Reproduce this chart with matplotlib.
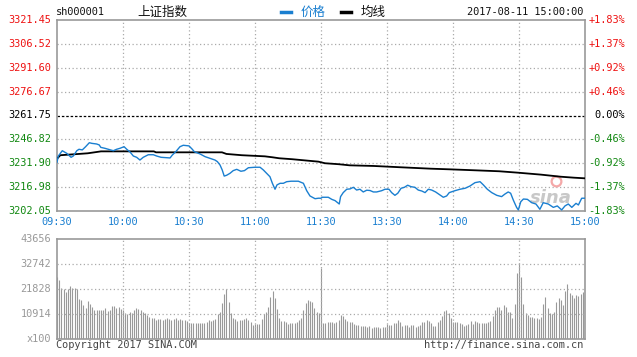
import matplotlib
matplotlib.use("Agg")
import matplotlib.pyplot as plt
from matplotlib.lines import Line2D
import numpy as np

W, H = 637, 357

# ---------------- data ----------------
price_ticks = [3202.05, 3216.98, 3231.90, 3246.82, 3261.75, 3276.67, 3291.60, 3306.52, 3321.45]
pct_labels = ["-1.83%", "-1.37%", "-0.92%", "-0.46%", "0.00%", "+0.46%", "+0.92%", "+1.37%", "+1.83%"]
prev_close = 3261.75
time_labels = ["09:30", "10:00", "10:30", "11:00", "11:30", "13:30", "14:00", "14:30", "15:00"]
vol_ticks = [10914, 21828, 32742, 43656]

price_min = [0, 0.6, 2.4, 4.4, 6.4, 7.4, 9, 10, 11.5, 13, 14.7, 15.8, 18, 19.2, 19.9, 21.8, 23.3, 25.6,
             27.1, 28.6, 30.5, 31.7, 33.2, 34.7, 36.2, 37.7, 39.2, 41.5, 43.8, 45.3, 47.3, 51.4, 52.4,
             54, 55.9, 57.4, 60, 61.5, 62.4, 65, 67.3, 69.5, 71.8, 72.9, 74.1, 75.1, 76, 77.1, 78.6,
             80.1, 81.7, 83.6, 85.2, 87, 90, 92.3, 93.8, 95.3, 96.8, 97.9, 99.1, 100, 101.4, 102.9,
             104.4, 106.4, 109.7, 112, 113.5, 115, 117.3, 118.8, 120, 120.6, 123.3, 124.9, 126.4,
             127.6, 128.3, 128.9, 130.1, 131.7, 133.2, 134.7, 136.2, 137.7, 139.2, 140.8, 142.3,
             143.8, 145.3, 147.6, 149.1, 150.9, 152.1, 153.6, 154.9, 156.4, 157.9, 159.4, 160.9,
             162.7, 164.2, 165.8, 167.3, 168.8, 170.3, 172.1, 174.1, 175.6, 177.1, 178.3, 180.9,
             183.2, 185.5, 187.7, 190, 192.3, 193.8, 195.6, 197.6, 199.9, 202.1, 203.6, 205.1,
             206.2, 207.4, 208.9, 209.7, 210.8, 212, 213.8, 215.8, 217.7, 219.5, 221, 223.3, 225.6,
             227.4, 229.4, 230.9, 232.4, 234, 235.9, 237, 238.5, 240]
price_val = [3232.6, 3236.5, 3239.8, 3238.2, 3235.7, 3236.5, 3239.8, 3240.7, 3240.3, 3242.3, 3244.8,
             3244.4, 3244.0, 3243.4, 3241.9, 3241.3, 3240.7, 3239.8, 3240.7, 3241.3, 3242.3, 3240.7,
             3239.0, 3236.5, 3235.7, 3234.0, 3235.7, 3237.3, 3237.3, 3236.5, 3235.7, 3235.3, 3237.1,
             3239.2, 3242.3, 3243.2, 3242.8, 3240.7, 3239.2, 3237.8, 3236.1, 3235.1, 3234.0, 3233.0,
             3230.9, 3227.8, 3224.0, 3224.5, 3225.7, 3227.4, 3228.2, 3227.0, 3227.4, 3229.2, 3229.5,
             3229.5, 3227.8, 3225.7, 3223.6, 3219.5, 3215.8, 3218.5, 3219.5, 3219.5, 3220.5, 3220.8,
             3220.8, 3219.5, 3214.9, 3211.6, 3209.9, 3210.2, 3210.2, 3210.8, 3210.8, 3209.5, 3208.7,
             3207.4, 3206.6, 3211.2, 3213.7, 3215.8, 3216.0, 3217.0, 3215.3, 3215.8, 3214.1, 3215.2,
             3215.0, 3214.1, 3214.1, 3214.9, 3215.8, 3215.8, 3213.7, 3212.0, 3213.3, 3216.4, 3217.0,
             3218.3, 3217.4, 3217.0, 3215.3, 3214.7, 3213.7, 3215.8, 3215.3, 3214.1, 3212.2, 3210.8,
             3211.6, 3213.7, 3214.9, 3215.8, 3216.4, 3217.8, 3219.9, 3220.5, 3218.5, 3215.8, 3213.7,
             3212.0, 3211.2, 3212.8, 3214.1, 3213.3, 3209.1, 3204.5, 3202.9, 3208.0, 3209.7, 3209.5,
             3207.4, 3206.6, 3203.3, 3207.4, 3206.6, 3204.5, 3205.4, 3202.9, 3205.4, 3206.6, 3204.5,
             3207.0, 3206.0, 3210.2, 3210.2]

avg_min = [0, 1.5, 10, 14, 17, 20, 44, 45, 75, 77, 84, 94.5, 98, 101, 107, 114, 118.8, 121.8, 128,
           133, 144, 156, 170, 178.6, 190, 201, 209.7, 220, 229, 235, 240]
avg_val = [3234.8, 3237.0, 3237.8, 3238.2, 3238.8, 3239.4, 3239.4, 3238.8, 3238.8, 3237.8, 3237.0,
           3236.3, 3235.7, 3235.1, 3234.5, 3233.6, 3233.0, 3232.0, 3231.4, 3230.7, 3230.3, 3229.5,
           3228.6, 3228.2, 3227.6, 3227.0, 3226.1, 3224.9, 3223.6, 3223.0, 3222.6]

volume = [
    27000, 25900, 22550, 21970, 20800, 21970, 23280, 22550, 22260, 21830,
    17600, 17170, 14990, 13820, 16730, 15280, 14260, 12800, 12800, 12800,
    12800, 12800, 13530, 12370, 12800, 14550, 14550, 13530, 14260, 13100,
    12800, 11350, 10910, 11790, 11350, 12800, 13530, 13240, 12800, 12080,
    11350, 10620, 9890, 9460, 9460, 8440, 8880, 8880, 8440, 8880,
    9170, 8880, 8440, 8880, 9460, 8440, 8880, 8440, 8290, 8000,
    7280, 7130, 7130, 7130, 7130, 7130, 7130, 7130, 7710, 8440,
    8000, 8440, 8880, 10910, 11790, 15710, 19640, 21970, 16440, 11350,
    9460, 8880, 8000, 8440, 8440, 8880, 9460, 8440, 7420, 6260,
    6550, 6550, 6840, 8880, 10910, 11790, 14260, 18620, 21100, 18190,
    13240, 9460, 8000, 8000, 7420, 6550, 7130, 7130, 7130, 7420,
    8440, 9460, 12800, 15710, 17020, 16730, 16150, 13820, 11790, 11350,
    31280, 7130, 7280, 7710, 7710, 7420, 6980, 7420, 8440, 10620,
    10330, 8880, 8000, 7710, 7710, 6550, 6260, 6260, 5970, 5970,
    5820, 5530, 5820, 5090, 5380, 5380, 5380, 5090, 5380, 5530,
    6550, 6260, 6260, 6980, 6980, 8440, 7710, 5970, 6260, 6260,
    5530, 6260, 6260, 5530, 5970, 6260, 7420, 7710, 8440, 8000,
    6980, 5820, 5970, 7710, 8440, 10330, 12370, 12800, 11350, 9170,
    7710, 7710, 7420, 6980, 6550, 5970, 6260, 6550, 8000, 6550,
    8000, 7420, 7130, 7130, 6980, 7280, 7420, 8000, 10190, 12800,
    14260, 14260, 12800, 14990, 14260, 11790, 11790, 9170, 15280, 28810,
    33170, 27350, 15420, 11350, 10620, 9890, 9600, 9460, 9170, 8730,
    9890, 15280, 18620, 13820, 11350, 10910, 11790, 16440, 17900, 17170,
    14990, 21100, 24010, 20370, 19350, 18190, 19350, 18920, 19640, 20800,
    29830,
]

# ---------------- style ----------------
GRID = "#aaaaaa"
BORDER = "#999999"
RED = "#ee1111"
GREEN = "#118811"
BLUE = "#1a7fd0"
MONO = ["DejaVu Sans Mono"]
CJK = ["Noto Sans CJK SC", "DejaVu Sans"]
FS = 7.4

fig = plt.figure(figsize=(W / 100, H / 100), dpi=100)
fig.patch.set_facecolor("white")

def fx(px):
    return px / W

def fy(py):
    return 1 - py / H

# price panel
L, R = 57, 585
T1, B1 = 19.7, 211.3
ax = fig.add_axes([fx(L), fy(B1), fx(R - L), (B1 - T1) / H])
ax.set_xlim(0, 240)
ax.set_ylim(price_ticks[0], price_ticks[-1])
for s in ax.spines.values():
    s.set_color(BORDER)
    s.set_linewidth(1.2)
ax.set_xticks([]); ax.set_yticks([])

xgrid = np.arange(30, 240, 30)
for xv in xgrid:
    ax.axvline(xv, color=GRID, lw=0.9, ls=(0, (1, 2)), zorder=1)
for pv in price_ticks[1:-1]:
    if pv == prev_close:
        ax.axhline(pv, color="black", lw=0.9, ls=(0, (2, 1.5)), zorder=1)
    else:
        ax.axhline(pv, color=GRID, lw=0.9, ls=(0, (1, 2)), zorder=1)

ax.plot(avg_min, avg_val, color="black", lw=1.3, zorder=3)
ax.plot(price_min, price_val, color=BLUE, lw=1.0, zorder=4)

for pv, pl in zip(price_ticks, pct_labels):
    if pv > prev_close:
        c = RED
    elif pv < prev_close:
        c = GREEN
    else:
        c = "black"
    ax.text(-0.011, pv, f"{pv:.2f}", transform=ax.get_yaxis_transform(), ha="right", va="center",
            color=c, fontsize=FS, family=MONO)
    ax.text(1.0758, pv, pl, transform=ax.get_yaxis_transform(), ha="right", va="center",
            color=c, fontsize=FS, family=MONO)

for i, tl in enumerate(time_labels):
    ax.text(i * 30, -0.055, tl, transform=ax.get_xaxis_transform(), ha="center", va="center",
            color=BLUE, fontsize=FS, family=MONO)

# sina watermark
ax.text(0.935, 0.07, "sina", transform=ax.transAxes, ha="center", va="center", fontsize=13,
        fontstyle="italic", fontweight="bold", color="#c8c8c8", zorder=2)
ax.plot([0.945], [0.16], transform=ax.transAxes, marker="o", ms=7, mfc="none", mec="#f4a8a8",
        mew=1.6, zorder=2)

# volume panel
T2, B2 = 239.3, 339.3
av = fig.add_axes([fx(L), fy(B2), fx(R - L), (B2 - T2) / H])
av.set_xlim(0, 240)
av.set_ylim(0, vol_ticks[-1])
for s in av.spines.values():
    s.set_color(BORDER)
    s.set_linewidth(1.2)
av.set_xticks([]); av.set_yticks([])
minutes = np.arange(len(volume))
av.vlines(minutes, 0, volume, color="#999999", lw=0.8, zorder=2)
for xv in xgrid:
    av.axvline(xv, color=GRID, lw=0.9, ls=(0, (1, 2)), zorder=3)
for vv in vol_ticks[:-1]:
    av.axhline(vv, color=GRID, lw=0.9, ls=(0, (1, 2)), zorder=3)
for vv in vol_ticks:
    av.text(-0.011, vv, str(vv), transform=av.get_yaxis_transform(), ha="right", va="center",
            color="#999999", fontsize=FS, family=MONO)
av.text(-0.011, 0, "x100", transform=av.get_yaxis_transform(), ha="right", va="center",
        color="#999999", fontsize=FS, family=MONO)

# header texts
fig.text(fx(56), fy(12), "sh000001", ha="left", va="center", fontsize=FS, family=MONO, color="#111111")
fig.text(fx(137), fy(12), "上证指数", ha="left", va="center", fontsize=9, family=CJK, color="#111111")
fig.add_artist(Line2D([fx(281), fx(291)], [fy(12), fy(12)], lw=2.5, color=BLUE))
fig.text(fx(301), fy(12), "价格", ha="left", va="center", fontsize=9, family=CJK, color=BLUE)
fig.add_artist(Line2D([fx(341), fx(351)], [fy(12), fy(12)], lw=2.5, color="black"))
fig.text(fx(361), fy(12), "均线", ha="left", va="center", fontsize=9, family=CJK, color="#111111")
fig.text(fx(583), fy(12), "2017-08-11 15:00:00", ha="right", va="center", fontsize=FS, family=MONO,
         color="#111111")

# footer
fig.text(fx(56), fy(345), "Copyright 2017 SINA.COM", ha="left", va="center", fontsize=FS, family=MONO,
         color="#444444")
fig.text(fx(583), fy(345), "http://finance.sina.com.cn", ha="right", va="center", fontsize=FS,
         family=MONO, color="#444444")

fig.savefig("out.png", dpi=100, facecolor="white")
